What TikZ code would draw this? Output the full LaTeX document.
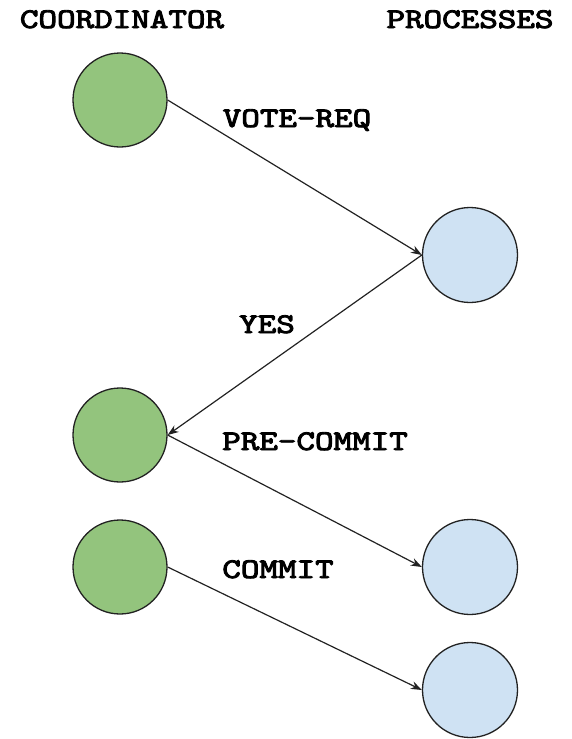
\documentclass[tikz,border=0pt]{standalone}
\usepackage{fontspec}
\usepackage{graphicx}
\newfontfamily\courbold{lmmono10-regular.otf}[FakeBold=3]
\usetikzlibrary{arrows.meta}
\definecolor{coordgreen}{HTML}{93C47D}
\definecolor{procblue}{HTML}{CFE2F3}
\definecolor{edgegray}{HTML}{222222}
\newcommand{\msgtext}[1]{\scalebox{1.24}[1]{\courbold\fontsize{28.5}{30}\selectfont #1}}
\begin{document}
\begin{tikzpicture}[x=1pt,y=-1pt,
  coordnode/.style={circle,draw=edgegray,line width=1.3pt,fill=coordgreen,minimum size=94pt,inner sep=0pt},
  procnode/.style={circle,draw=edgegray,line width=1.3pt,fill=procblue,minimum size=95pt,inner sep=0pt},
  lbl/.style={anchor=base,inner sep=0pt},
  msg/.style={draw=edgegray,line width=1.2pt,-{Stealth[length=11pt,width=8pt]}}]
\useasboundingbox (0,0) rectangle (571,739);
\node[lbl] (hc) at (122,28) {\msgtext{COORDINATOR}};
\node[lbl] (hp) at (470,28) {\msgtext{PROCESSES}};
\node[coordnode] (c1) at (120,100) {};
\node[procnode] (p1) at (470,255) {};
\node[coordnode] (c2) at (120,435) {};
\node[coordnode] (c3) at (120,567) {};
\node[procnode] (p2) at (470,567) {};
\node[procnode] (p3) at (470,690) {};
\draw[msg] (c1.east) -- (p1.west);
\draw[msg] (p1.west) -- (c2.east);
\draw[msg] (c2.east) -- (p2.west);
\draw[msg] (c3.east) -- (p3.west);
\node[lbl] (l1) at (297,127) {\msgtext{VOTE-REQ}};
\node[lbl] (l2) at (267,333) {\msgtext{YES}};
\node[lbl] (l3) at (315,450) {\msgtext{PRE-COMMIT}};
\node[lbl] (l4) at (278,578) {\msgtext{COMMIT}};
\end{tikzpicture}
\end{document}
